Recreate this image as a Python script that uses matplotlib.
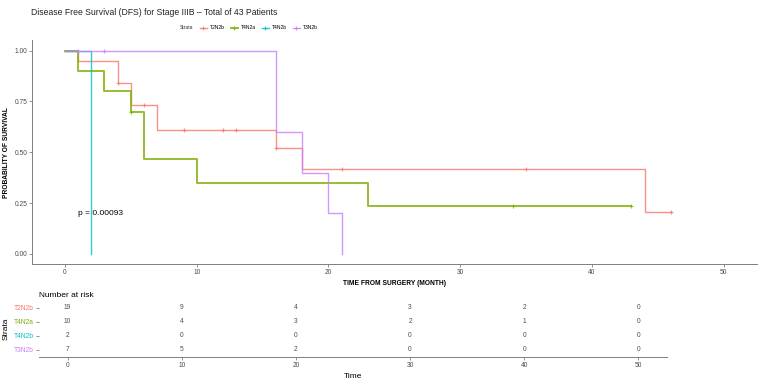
import numpy as np
import matplotlib.pyplot as plt
from matplotlib.lines import Line2D

plt.rcParams['font.family'] = ['Liberation Sans', 'DejaVu Sans']

# Kaplan-Meier step data
strata = ['T2N2b', 'T4N2a', 'T4N2b', 'T3N2b']
colors = ['#F8766D', '#7CAE00', '#00BFC4', '#C77CFF']

t2n2b_t = [0, 1, 4, 5, 7, 16, 18, 44, 46]
t2n2b_s = [1.0, 0.947, 0.842, 0.730, 0.608, 0.521, 0.417, 0.208, 0.208]
t2n2b_cens = [4, 6, 9, 12, 13, 16, 21, 35, 46]

t4n2a_t = [0, 1, 3, 5, 6, 10, 23, 43]
t4n2a_s = [1.0, 0.9, 0.8, 0.7, 0.467, 0.35, 0.233, 0.233]
t4n2a_cens = [5, 34, 43]

t4n2b_t = [0, 2]
t4n2b_s = [1.0, 0.0]
t4n2b_cens = []

t3n2b_t = [0, 16, 18, 20, 21]
t3n2b_s = [1.0, 0.6, 0.4, 0.2, 0.0]
t3n2b_cens = [1, 3]

# number at risk table
risk_times = [0, 10, 20, 30, 40, 50]
risk_t2n2b = [19, 9, 4, 3, 2, 0]
risk_t4n2a = [10, 4, 3, 2, 1, 0]
risk_t4n2b = [2, 0, 0, 0, 0, 0]
risk_t3n2b = [7, 5, 2, 0, 0, 0]

curves = [(t2n2b_t, t2n2b_s, t2n2b_cens),
          (t4n2a_t, t4n2a_s, t4n2a_cens),
          (t4n2b_t, t4n2b_s, t4n2b_cens),
          (t3n2b_t, t3n2b_s, t3n2b_cens)]
risks = [risk_t2n2b, risk_t4n2a, risk_t4n2b, risk_t3n2b]

grey = '#7f7f7f'
fig = plt.figure(figsize=(7.62, 3.81), dpi=100)

# main survival plot
ax = fig.add_axes([0.042, 0.307, 0.951, 0.587])
handles = []
for (t, s, cens), col, name in zip(curves, colors, strata):
    lw = 1.4 if name == 'T4N2a' else 1.0
    ax.step(t, s, where='post', color=col, lw=lw, alpha=0.8)
    if cens:
        idx = np.searchsorted(t, cens, side='right') - 1
        ax.plot(cens, np.array(s)[idx], '+', color=col, ms=3.5, mew=0.8, alpha=0.8)
    handles.append(Line2D([], [], color=col, lw=lw, alpha=0.8, marker='+', ms=3.5, mew=0.8))

ax.set_xlim(-2.5, 52.5)
ax.set_ylim(-0.05, 1.05)
ax.set_xticks([0, 10, 20, 30, 40, 50])
ax.set_yticks([0, 0.25, 0.5, 0.75, 1.0])
ax.set_yticklabels(['0.00', '0.25', '0.50', '0.75', '1.00'])
for sp in ['top', 'right']:
    ax.spines[sp].set_visible(False)
for sp in ['left', 'bottom']:
    ax.spines[sp].set_color(grey)
    ax.spines[sp].set_linewidth(0.7)
ax.tick_params(labelsize=4.8, colors=grey, length=2, width=0.6, labelcolor='#4d4d4d', pad=1.5)
ax.set_xlabel('TIME FROM SURGERY (MONTH)', fontsize=4.8, fontweight='bold', labelpad=3)
ax.set_ylabel('PROBABILITY OF SURVIVAL', fontsize=4.8, fontweight='bold', labelpad=3)
ax.text(1, 0.2, 'p = 0.00093', fontsize=6, va='center', ha='left')

fig.text(0.041, 0.968, 'Disease Free Survival (DFS) for Stage IIIB \u2013 Total of 43 Patients',
         fontsize=6.2, va='center', ha='left', color='#222222')
fig.text(0.236, 0.927, 'Strata', fontsize=3.6, va='center', ha='left', color='#333333')
fig.legend(handles=handles, labels=strata, loc='center left', bbox_to_anchor=(0.262, 0.927),
           ncol=4, frameon=False, fontsize=3.6, handlelength=1.4, columnspacing=1.2,
           handletextpad=0.6, borderpad=0, borderaxespad=0)

# risk table
tax = fig.add_axes([0.0512, 0.063, 0.824, 0.147])
nrow = len(strata)
for i, vals in enumerate(risks):
    yrow = nrow - i
    for x, v in zip(risk_times, vals):
        tax.text(x, yrow, str(v), fontsize=4.8, ha='center', va='center', color='#4d4d4d')
tax.set_xlim(-2.5, 52.5)
tax.set_ylim(0.5, nrow + 0.5)
tax.set_xticks(risk_times)
tax.set_yticks(range(nrow, 0, -1))
tax.set_yticklabels(strata)
for sp in ['top', 'right', 'left']:
    tax.spines[sp].set_visible(False)
tax.spines['bottom'].set_color(grey)
tax.spines['bottom'].set_linewidth(0.7)
tax.tick_params(labelsize=4.8, colors=grey, length=2, width=0.6, labelcolor='#4d4d4d', pad=1.5)
for lbl, col in zip(tax.get_yticklabels(), colors):
    lbl.set_color(col)
tax.set_xlabel('Time', fontsize=6, labelpad=3)
tax.set_ylabel('Strata', fontsize=6, labelpad=3)
tax.set_title('Number at risk', fontsize=6, loc='left', pad=3)

fig.savefig('out.png', dpi=100)
